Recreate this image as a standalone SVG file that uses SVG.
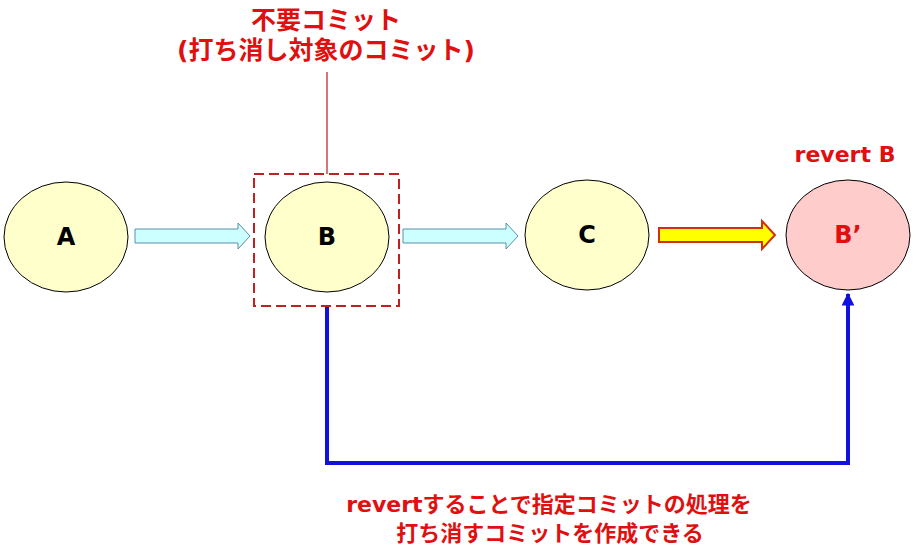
<svg xmlns="http://www.w3.org/2000/svg" width="917" height="557" viewBox="0 0 917 557">
<style>
.node{stroke:#000;stroke-width:1}
.lbl{font-family:"DejaVu Sans","Noto Sans CJK JP",sans-serif;font-weight:bold;text-anchor:middle}
.red{fill:#e01010}
.blk{fill:#000}
.cyan{fill:#ccffff;stroke:#5a8fa8;stroke-width:1}
</style>
<defs>
<marker id="blueHead" viewBox="0 0 10 10" refX="9" refY="5" markerWidth="3.2" markerHeight="3.6" orient="auto" markerUnits="strokeWidth">
<path d="M0,0 L10,5 L0,10 z" fill="#1010e0"/>
</marker>
</defs>
<rect width="917" height="557" fill="#fff"/>
<g id="connectors">
<path class="cyan" d="M135,229 H238 V223 L250,236 L238,249 V243 H135 z"/>
<path class="cyan" d="M403,229 H506 V223 L518,236 L506,249 V243 H403 z"/>
<path d="M659,228 H762 V221 L775,235 L762,249 V242 H659 z" fill="#ffff00" stroke="#d03010" stroke-width="2"/>
<path d="M327,306 V463 H848 V294" fill="none" stroke="#1010e0" stroke-width="4" marker-end="url(#blueHead)"/>
<line x1="327" y1="72" x2="327" y2="174" stroke="#c01818" stroke-width="1.2"/>
</g>
<g id="nodeA">
<ellipse class="node" cx="66" cy="237" rx="62" ry="55" fill="#ffffcc"/>
<text class="lbl blk" x="66" y="245" font-size="24">A</text>
</g>
<g id="nodeB">
<rect x="254" y="174" width="145" height="132" fill="none" stroke="#c02020" stroke-width="2" stroke-dasharray="10,5"/>
<ellipse class="node" cx="327" cy="237" rx="62" ry="55" fill="#ffffcc"/>
<text class="lbl blk" x="327" y="245" font-size="24">B</text>
</g>
<g id="nodeC">
<ellipse class="node" cx="587" cy="235" rx="62" ry="55" fill="#ffffcc"/>
<text class="lbl blk" x="587" y="243" font-size="24">C</text>
</g>
<g id="nodeBprime">
<ellipse class="node" cx="848" cy="235" rx="62" ry="55" fill="#ffcccc"/>
<text class="lbl red" x="848" y="243" font-size="24">B’</text>
<text class="lbl red" x="845" y="162" font-size="22">revert B</text>
</g>
<g id="labels">
<text class="lbl red" x="326" y="29" font-size="25">不要コミット</text>
<text class="lbl red" x="326" y="59" font-size="25">(打ち消し対象のコミット)</text>
<text class="lbl red" x="549" y="512" font-size="22">revertすることで指定コミットの処理を</text>
<text class="lbl red" x="550" y="541" font-size="22">打ち消すコミットを作成できる</text>
</g>
</svg>
